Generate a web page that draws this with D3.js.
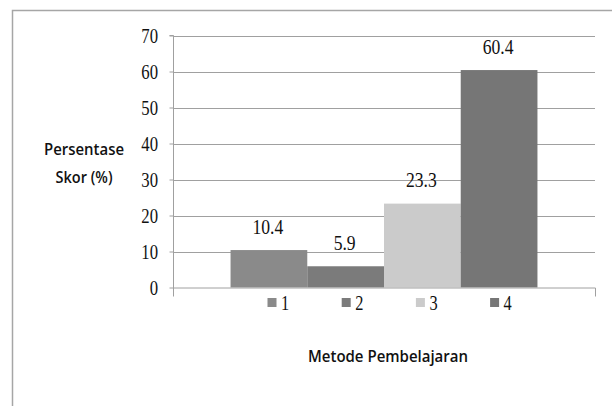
<!DOCTYPE html>
<html><head><meta charset="utf-8">
<script src="https://cdn.jsdelivr.net/npm/d3@7/dist/d3.min.js"></script>
<style>body{margin:0;background:#fff}svg{display:block}</style>
</head><body>
<svg id="c" width="612" height="406"></svg>
<script>
const series = ["1","2","3","4"];
const values = [10.4, 5.9, 23.3, 60.4];
const colors = ["#8a8a8a","#7b7b7b","#cbcbcb","#767676"];
const yTicks = [0,10,20,30,40,50,60,70];
const yTitle = ["Persentase","Skor (%)"];
const xTitle = "Metode Pembelajaran";

const svg = d3.select("#c");
const L = 173, R = 595, T = 35.5, B = 287.5;

// outer frame
svg.append("path").attr("d","M12.5,420V10.5H630").attr("fill","none").attr("stroke","#a6a6a6").attr("stroke-width",1.5);

const y = d3.scaleLinear().domain([0,70]).range([B,T]);
const x = d3.scaleBand().domain(series).range([L,R]).paddingInner(0).paddingOuter(0.75);

// gridlines
svg.append("g").selectAll("line").data(yTicks.filter(d=>d>0)).join("line")
  .attr("x1",L).attr("x2",R).attr("y1",d=>Math.round(y(d))+0.5).attr("y2",d=>Math.round(y(d))+0.5)
  .attr("stroke","#a0a0a0").attr("stroke-width",1);

// bars
svg.append("g").selectAll("rect").data(values).join("rect")
  .attr("x",(d,i)=>x(series[i])).attr("width",x.bandwidth())
  .attr("y",d=>y(d)).attr("height",d=>y(0)-y(d))
  .attr("fill",(d,i)=>colors[i]);

// y axis
const yAxis = d3.axisLeft(y).tickValues(yTicks).tickSize(4).tickFormat(d3.format("d"));
const ga = svg.append("g").attr("transform",`translate(${L+0.5},0)`).call(yAxis);
ga.select(".domain").attr("d",`M-4,${T}H0V${B+9}`).attr("stroke","#a0a0a0");
ga.selectAll(".tick line").attr("stroke","#a0a0a0");
ga.selectAll(".tick text").remove();
svg.append("g").selectAll("text").data(yTicks).join("text")
  .attr("transform",d=>`translate(158,${y(d)+7}) scale(0.76,1)`)
  .attr("text-anchor","end").attr("font-family","Liberation Serif").attr("font-size",22)
  .attr("fill","#111").text(d=>d);

// x axis line
svg.append("path").attr("d",`M${L},${B+0.5}H${R+0.5}V${B+9}`).attr("fill","none").attr("stroke","#a0a0a0");

// value labels
svg.append("g").selectAll("text").data(values).join("text")
  .attr("transform",(d,i)=>`translate(${x(series[i])+x.bandwidth()/2-1},${y(d)-16.5}) scale(0.88,1)`)
  .attr("text-anchor","middle").attr("font-family","Liberation Serif").attr("font-size",20)
  .attr("fill","#111").text(d=>d.toFixed(1));

// legend
const lg = svg.append("g").selectAll("g").data(series).join("g")
  .attr("transform",(d,i)=>`translate(${267.5+i*74.2},0)`);
lg.append("rect").attr("x",0).attr("y",298).attr("width",9).attr("height",9).attr("fill",(d,i)=>colors[i]);
lg.append("text").attr("transform","translate(13.5,309.5) scale(0.78,1)")
  .attr("font-family","Liberation Serif").attr("font-size",21).attr("fill","#111").text(d=>d);

// y title
svg.append("g").selectAll("text").data(yTitle).join("text")
  .attr("x",84).attr("y",(d,i)=>155+i*28).attr("text-anchor","middle")
  .attr("font-family","Open Sans").attr("font-weight",600).attr("font-size",17).attr("fill","#111")
  .attr("textLength",(d,i)=>i===0?80:57).attr("lengthAdjust","spacingAndGlyphs").text(d=>d);

// x title
svg.append("text").attr("x",388).attr("y",361.5).attr("text-anchor","middle")
  .attr("font-family","Open Sans").attr("font-weight",600).attr("font-size",16.5).attr("fill","#111")
  .attr("textLength",160).attr("lengthAdjust","spacingAndGlyphs").text(xTitle);
</script>
</body></html>
